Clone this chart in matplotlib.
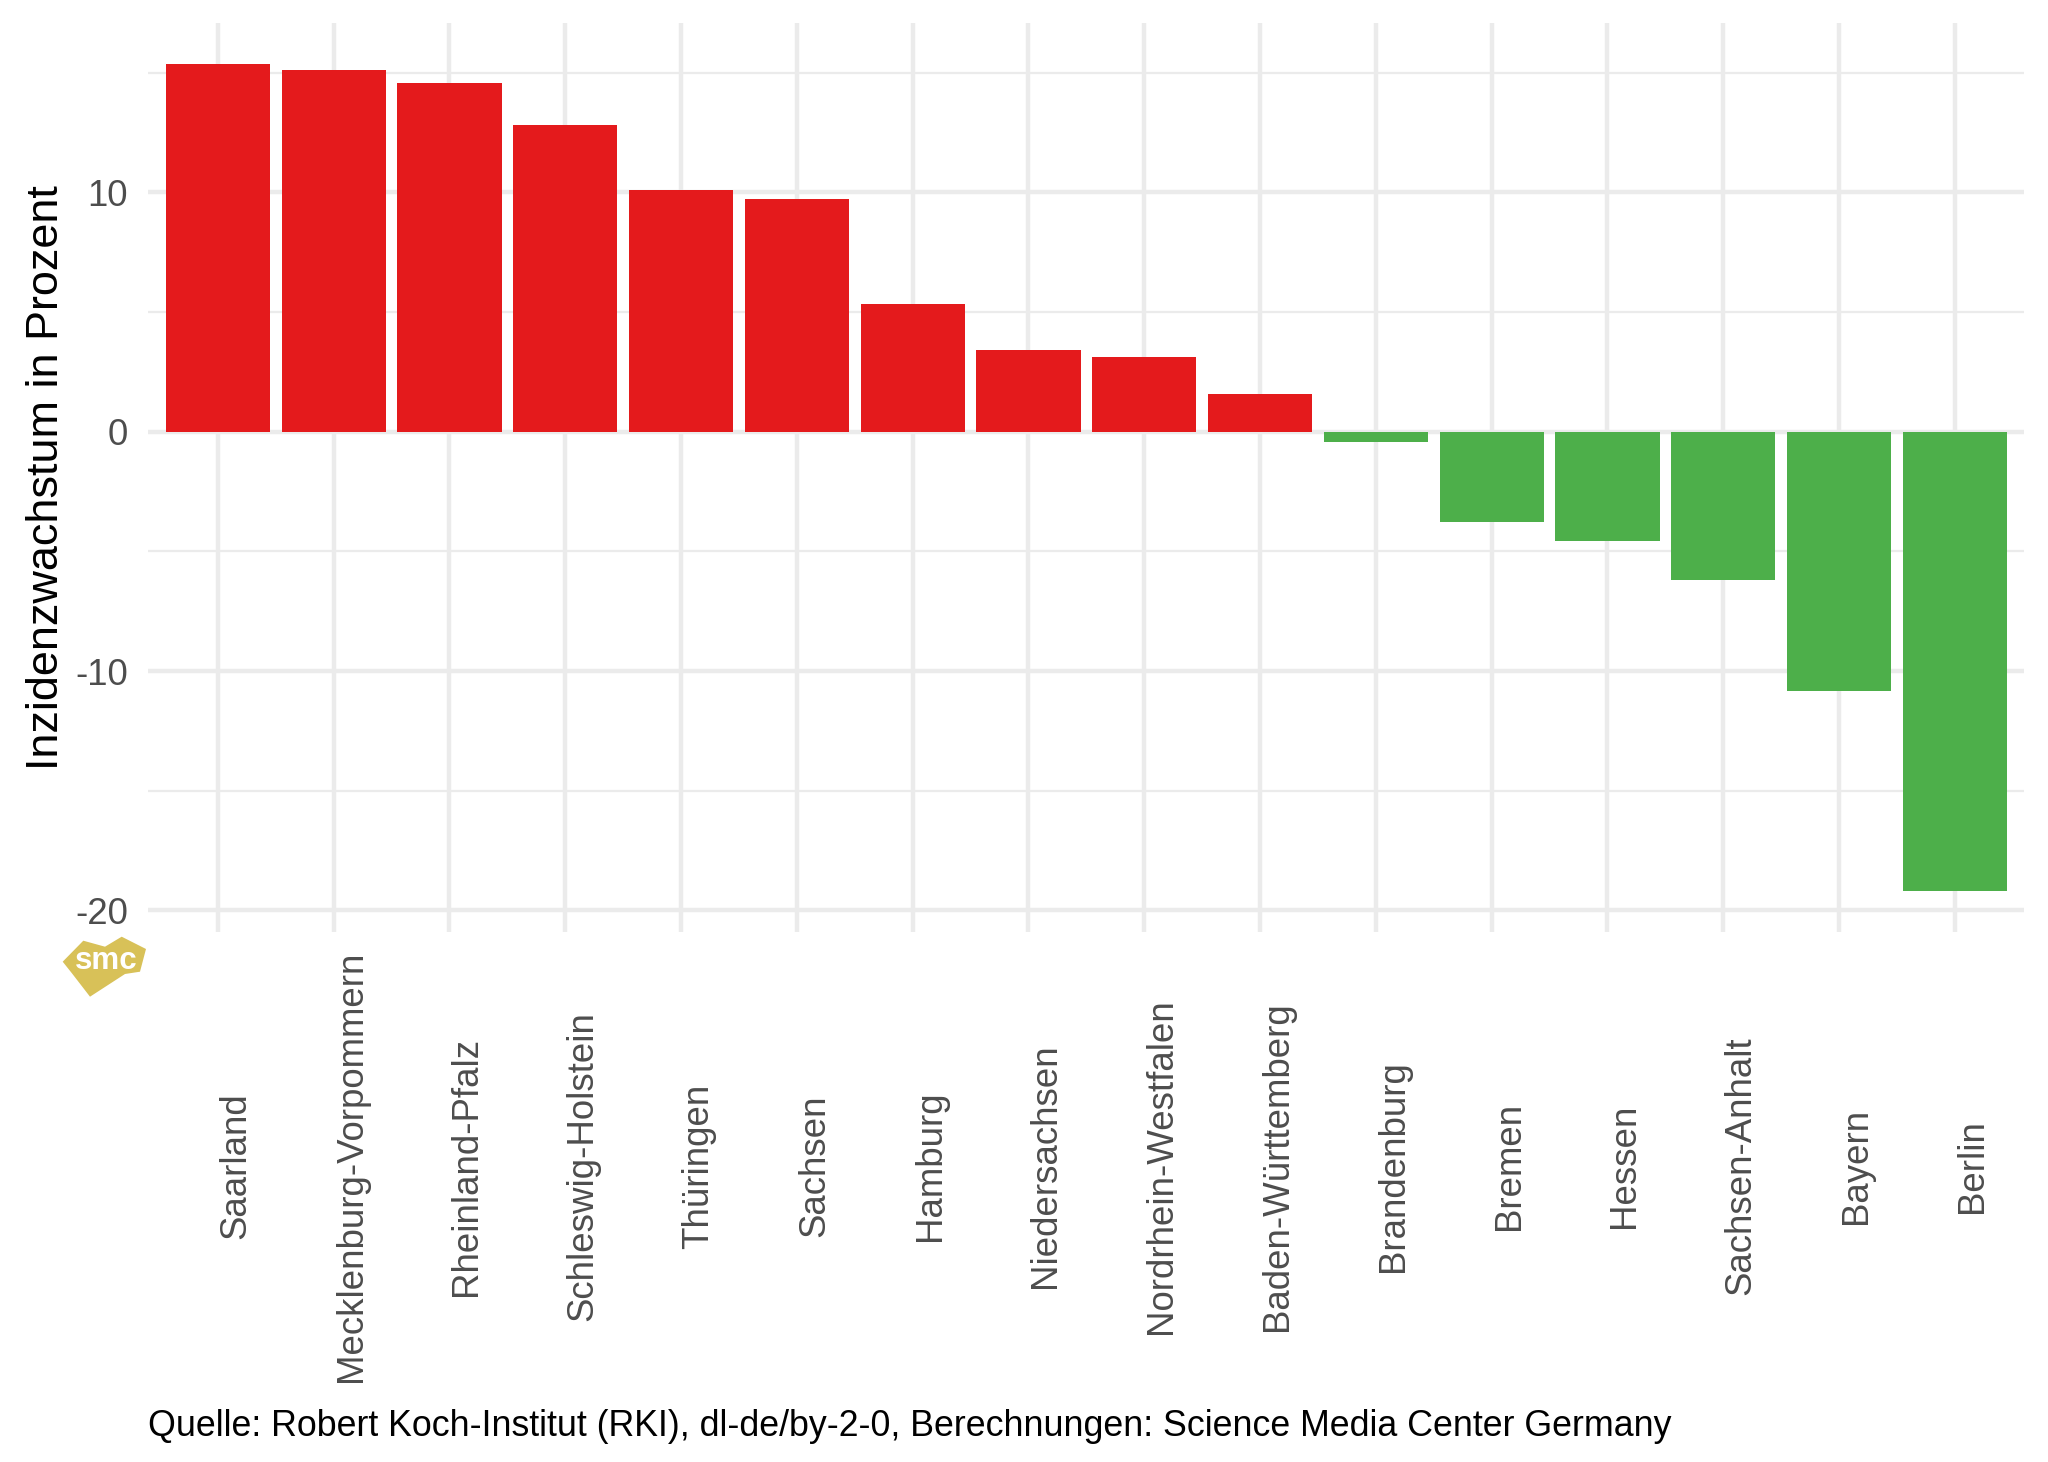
import numpy as np
import matplotlib
matplotlib.use("Agg")
import matplotlib.pyplot as plt
from matplotlib.patches import Polygon

plt.rcParams['font.family'] = ['Liberation Sans', 'DejaVu Sans']
plt.rcParams['axes.unicode_minus'] = False

# ---- data ----
states = ["Saarland", "Mecklenburg-Vorpommern", "Rheinland-Pfalz", "Schleswig-Holstein",
          "Thüringen", "Sachsen", "Hamburg", "Niedersachsen", "Nordrhein-Westfalen",
          "Baden-Württemberg", "Brandenburg", "Bremen", "Hessen", "Sachsen-Anhalt",
          "Bayern", "Berlin"]
growth = [15.37, 15.12, 14.56, 12.81, 10.11, 9.74, 5.35, 3.40, 3.11, 1.57,
          -0.43, -3.78, -4.58, -6.21, -10.81, -19.18]
ytick_vals = [-20, -10, 0, 10]
ytick_labels = ["-20", "-10", "0", "10"]
yminor_vals = [-15, -5, 5, 15]
ylabel = "Inzidenzwachstum in Prozent"
caption = "Quelle: Robert Koch-Institut (RKI), dl-de/by-2-0, Berechnungen: Science Media Center Germany"

RED = "#E41A1C"
GREEN = "#4DAF4A"
GRID = "#EBEBEB"

W, H = 2048, 1462
fig = plt.figure(figsize=(W / 300, H / 300), dpi=300)
left, right, top, bottom = 148.4, 2024.3, 22.6, 932.2
ax = fig.add_axes([left / W, 1 - bottom / H, (right - left) / W, (bottom - top) / H])

x = np.arange(len(states))
colors = [RED if v > 0 else GREEN for v in growth]
ax.bar(x, growth, width=0.9, color=colors, zorder=3, linewidth=0)

lo, hi = min(growth), max(growth)
span = hi - lo
ax.set_ylim(lo - 0.05 * span, hi + 0.05 * span)
ax.set_xlim(-0.6, len(states) - 0.4)

# grid
for v in ytick_vals:
    ax.axhline(v, color=GRID, lw=1.07, zorder=1)
for v in yminor_vals:
    ax.axhline(v, color=GRID, lw=0.53, zorder=1)
for xi in x:
    ax.axvline(xi, color=GRID, lw=1.07, zorder=1)

for s in ax.spines.values():
    s.set_visible(False)

ax.set_yticks(ytick_vals, labels=ytick_labels)
ax.tick_params(axis='y', length=0, pad=4.95, labelsize=8.8, labelcolor="#4D4D4D")
ax.set_xticks(x, labels=states, rotation=90, ha='left', va='center')
ax.tick_params(axis='x', length=0, pad=56.1, labelsize=8.8, labelcolor="#4D4D4D")

ax.set_ylabel(ylabel, fontsize=10.8, color="black", labelpad=2.0)

fig.text(left / W, 0.024, caption, ha='left', va='center', fontsize=8.6, color='black')

# smc logo
pts = [(62.7, 961.7), (83.3, 940.7), (105, 946.7), (121.7, 936.7), (146, 949),
       (140, 971.7), (125, 974), (90, 996.7), (71.7, 973)]
verts = [(px / W, 1 - py / H) for px, py in pts]
fig.add_artist(Polygon(verts, closed=True, transform=fig.transFigure,
                       facecolor="#D8C158", edgecolor="none"))
fig.text(106 / W, 1 - 961 / H, "smc", ha='center', va='center', fontsize=7.5,
         fontweight='bold', color='white')

fig.savefig("out.png", dpi=300, facecolor='white')
